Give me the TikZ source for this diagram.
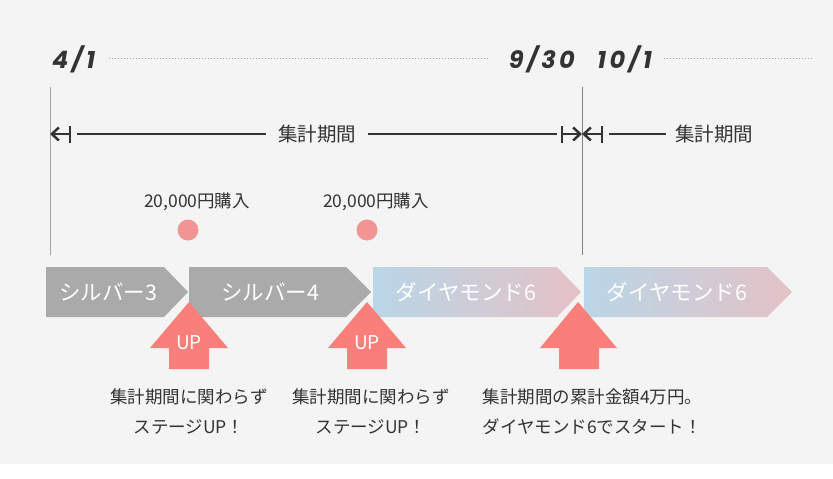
\documentclass[tikz,border=0pt]{standalone}
\usepackage{fontspec}
\usepackage{xcolor}
\setmainfont{Noto Sans CJK JP}
\newfontfamily\datefont{Poppins}[LetterSpace=14]
\usetikzlibrary{arrows.meta}
\definecolor{PanelGray}{HTML}{F4F4F4}
\definecolor{Ink}{HTML}{333333}
\definecolor{SilverRank}{HTML}{AAAAAA}
\definecolor{DiaBlue}{HTML}{BAD6E7}
\definecolor{DiaPink}{HTML}{E4C2C6}
\definecolor{BuyDot}{HTML}{F09494}
\definecolor{UpCoral}{HTML}{F97F7A}

\begin{document}
\begin{tikzpicture}[x=1pt, y=-1pt,
  date/.style={font=\datefont\fontsize{24}{24}\selectfont\bfseries\itshape,
    text=Ink, inner sep=0pt},
  dateline/.style={draw=gray!70, line width=1pt, dash pattern=on 1pt off 2pt},
  period/.style={font=\fontsize{19.5}{20}\selectfont, text=Ink, inner xsep=12pt},
  rule/.style={draw=Ink, line width=2.5pt},
  tick/.style={draw=Ink, line width=2.5pt, -{Straight Barb[length=7pt, width=13pt]}},
  buy/.style={font=\fontsize{17.5}{18}\selectfont, text=Ink},
  dot/.style={circle, fill=BuyDot, minimum size=21pt, inner sep=0pt},
  rank/.style={font=\fontsize{21.5}{22}\selectfont, text=white},
  up/.style={fill=UpCoral},
  note/.style={font=\fontsize{17.5}{30}\selectfont, text=Ink}]

  \fill[PanelGray] (0,0) rectangle (833,464);
  \useasboundingbox (0,0) rectangle (833,479);

  % dates
  \node[date, anchor=base west] (apr) at (52,68) {4/1};
  \node[date, anchor=base east] (sep) at (575,68) {9/30};
  \node[date, anchor=base west] (oct) at (597,68) {10/1};
  \coordinate (dotsEnd) at (813,58);
  \draw[dateline] (apr.east |- 0,58) ++(14,0) -- ([xshift=-20pt]sep.west |- 0,58);
  \draw[dateline] ([xshift=12pt]oct.east |- 0,58) -- (dotsEnd);

  % boundaries
  \coordinate (aprTop) at (50,87);  \coordinate (aprBot) at (50,255);
  \coordinate (octTop) at (582,87); \coordinate (octBot) at (582,255);
  \draw[gray!70, line width=1pt] (aprTop) -- (aprBot);
  \draw[gray, line width=1pt] (octTop) -- (octBot);

  % periods
  \node[period] (period1) at (317,134) {集計期間};
  \node[period, inner xsep=9pt] (period2) at (714,134) {集計期間};
  \coordinate (barA) at (70,134);
  \coordinate (barB) at (562,134);
  \coordinate (barC) at (602,134);
  \foreach \b in {barA,barB,barC}
    \draw[rule, line width=2pt] ([yshift=-8.5pt]\b) -- ([yshift=8.5pt]\b);
  \draw[tick] (barA) -- (aprTop |- barA);
  \draw[tick] (barB) -- (octTop |- barB);
  \draw[tick] (barC) -- (octTop |- barC);
  \draw[rule] ([xshift=7pt]barA) -- (period1.west);
  \draw[rule] (period1.east) -- ([xshift=-5pt]barB);
  \draw[rule] ([xshift=7pt]barC) -- (period2.west);

  % purchases
  \node[buy] (buy1label) at (197,202) {20,000円購入};
  \node[buy] (buy2label) at (376,202) {20,000円購入};
  \node[dot] (buy1) at (188,230) {};
  \node[dot] (buy2) at (367,230) {};

  % ranks
  \fill[SilverRank] (46,267) -- (164,267) -- (188,292) -- (164,317) -- (46,317) -- cycle;
  \fill[SilverRank] (189,267) -- (346,267) -- (371,292) -- (346,317) -- (189,317) -- cycle;
  \shade[left color=DiaBlue, right color=DiaPink]
    (373,267) -- (557,267) -- (581,292) -- (557,317) -- (373,317) -- cycle;
  \shade[left color=DiaBlue, right color=DiaPink]
    (584,267) -- (767,267) -- (792,292) -- (767,317) -- (584,317) -- cycle;
  \node[rank] (silver3) at (108,292) {シルバー3};
  \node[rank] (silver4) at (270,292) {シルバー4};
  \node[rank] (dia1) at (466,292) {ダイヤモンド6};
  \node[rank] (dia2) at (677,292) {ダイヤモンド6};

  % up arrows
  \foreach \x in {189,367}
    \fill[up] (\x,302) -- (\x+39,348) -- (\x+20,348) -- (\x+20,369)
      -- (\x-20,369) -- (\x-20,348) -- (\x-39,348) -- cycle;
  \fill[up] (578,302) -- (617,348) -- (599,348) -- (599,369)
    -- (559,369) -- (559,348) -- (540,348) -- cycle;
  \node[font=\fontsize{19}{20}\selectfont, text=white] (up1) at (189,343) {UP};
  \node[font=\fontsize{19}{20}\selectfont, text=white] (up2) at (367,343) {UP};

  % notes
  \node[note, align=center] (note1) at (189,412) {集計期間に関わらず\\ステージUP！};
  \node[note, align=center] (note2) at (371,412) {集計期間に関わらず\\ステージUP！};
  \node[note, align=left, anchor=west] (note3) at (479,412)
    {集計期間の累計金額4万円。\\ダイヤモンド6でスタート！};
\end{tikzpicture}
\end{document}
